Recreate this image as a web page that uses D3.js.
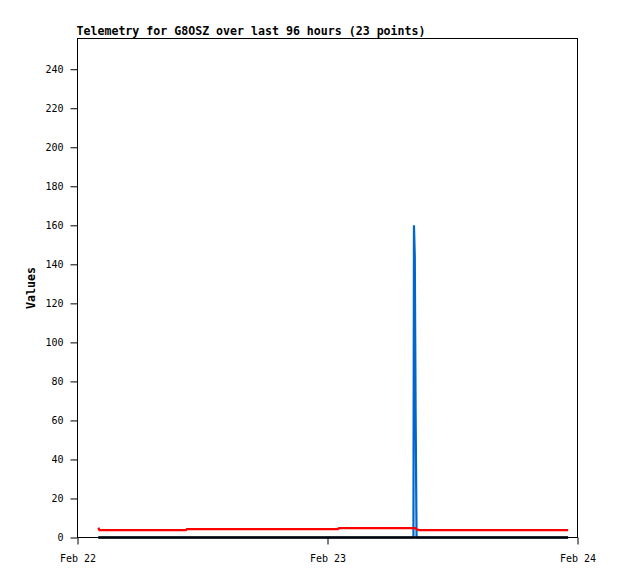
<html>
<head>
<meta charset='UTF-8'>
<title>Telemetry</title>
<script src='https://d3js.org/d3.v7.min.js'></script>
<style>
    body { margin: 0; background: #fff; }
    text { font-family: 'DejaVu Sans Mono', monospace; fill: #000; }
    .title, .ylabel { font-weight: bold; font-size: 11.6px; }
    .tickLabels text { font-size: 10px; }
</style>
</head>
<body>
<div id='chart'></div>
<script type='text/javascript'>
    // hours after Feb 22 00:00 for each of the 23 readings
    var hours = [2.0, 2.1, 6, 10.4, 10.5, 14, 18, 22, 25.0, 25.1, 28, 32.25,
                 32.3, 32.38, 32.46, 32.55, 32.8, 36, 39, 42, 44, 46, 47.1];
    var redValues = [5.1, 3.8, 3.8, 3.8, 4.3, 4.3, 4.3, 4.3, 4.3, 4.8, 4.8, 4.8,
                     4.8, 4.8, 4.8, 4.2, 3.8, 3.8, 3.8, 3.8, 3.8, 3.8, 3.8];
    var blueValues = [0, 0, 0, 0, 0, 0, 0, 0, 0, 0, 0, 0,
                      160, 144, 64, 0, 0, 0, 0, 0, 0, 0, 0];
    var blackValues = [0, 0, 0, 0, 0, 0, 0, 0, 0, 0, 0, 0,
                       0, 0, 0, 0, 0, 0, 0, 0, 0, 0, 0];
    var yTicks = [0, 20, 40, 60, 80, 100, 120, 140, 160, 180, 200, 220, 240];
    var xTickDates = ['2024-02-22', '2024-02-23', '2024-02-24'];

    var width = 618,
        height = 579,
        margin = {top: 38, right: 40.5, bottom: 41.5, left: 77.5};

    var start = new Date(2024, 1, 22, 0, 0);
    var end = new Date(2024, 1, 24, 0, 0);
    var times = hours.map(function(h) { return new Date(start.getTime() + h * 3600000); });

    var svg = d3.select('#chart').append('svg')
                .attr('width', width)
                .attr('height', height);

    var x = d3.scaleTime().domain([start, end]).range([margin.left, width - margin.right]),
        y = d3.scaleLinear().domain([0, 256]).range([height - margin.bottom, margin.top]);

    // plot frame
    svg.append('rect')
       .attr('x', margin.left)
       .attr('y', margin.top + 0.5)
       .attr('width', x(end) - margin.left)
       .attr('height', y(0) - margin.top - 0.5)
       .attr('fill', 'none')
       .attr('stroke', '#000')
       .attr('stroke-width', 1);

    // y axis
    var yAxis = svg.append('g')
       .attr('class', 'tickLabels')
       .attr('transform', 'translate(' + margin.left + ',0)')
       .call(d3.axisLeft(y).tickValues(yTicks).tickSize(7).tickPadding(7));
    yAxis.select('.domain').remove();

    // x axis
    var xAxis = svg.append('g')
       .attr('class', 'tickLabels')
       .attr('transform', 'translate(0,' + y(0) + ')')
       .call(d3.axisBottom(x)
               .tickValues(xTickDates.map(function(s) { var p = s.split('-'); return new Date(+p[0], +p[1] - 1, +p[2]); }))
               .tickSize(7)
               .tickPadding(10)
               .tickFormat(d3.timeFormat('%b %d')));
    xAxis.select('.domain').remove();

    var line = d3.line()
                 .x(function(d) { return x(d[0]); })
                 .y(function(d) { return y(d[1]); });

    function series(vals) { return vals.map(function(v, i) { return [times[i], v]; }); }

    svg.append('path')
       .attr('d', line(series(blueValues)))
       .attr('fill', 'none')
       .attr('stroke', '#0066cc')
       .attr('stroke-width', 2.2)
       .attr('stroke-linejoin', 'bevel');

    svg.append('path')
       .attr('d', line(series(redValues)))
       .attr('fill', 'none')
       .attr('stroke', '#ff0000')
       .attr('stroke-width', 2.2);

    svg.append('path')
       .attr('d', line(series(blackValues)))
       .attr('fill', 'none')
       .attr('stroke', '#000')
       .attr('stroke-width', 2.4);

    // title and label
    svg.append('text')
       .attr('class', 'title')
       .attr('x', margin.left - 1)
       .attr('y', 35)
       .text('Telemetry for G8OSZ over last 96 hours (23 points)');

    svg.append('text')
       .attr('class', 'ylabel')
       .attr('transform', 'translate(35,' + 288 + ') rotate(-90)')
       .attr('text-anchor', 'middle')
       .text('Values');
</script>
</body>
</html>
